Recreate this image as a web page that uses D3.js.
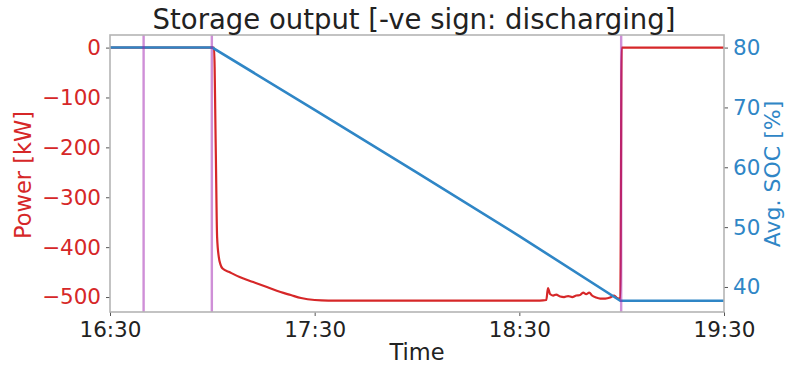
<!DOCTYPE html>
<html>
<head>
<meta charset="utf-8">
<script src="https://cdn.jsdelivr.net/npm/d3@7"></script>
<style>
  body { margin: 0; background: #fff; }
  svg { font-family: "DejaVu Sans", sans-serif; }
</style>
</head>
<body>
<svg id="chart" width="788" height="366"></svg>
<script>
// times as "HH:MM" (minutes may carry decimals)
var powerTimes = ["16:30", "17:00.5", "17:01", "17:01.4", "17:01.9", "17:02.4", "17:03", "17:05", "17:08",
  "17:12", "17:16", "17:20", "17:23", "17:26", "17:30", "17:34", "18:36", "18:37.9", "18:38.4", "18:39",
  "18:39.9", "18:40.8", "18:42", "18:43.1", "18:44.3", "18:45.5", "18:46.7", "18:47.8", "18:48.7",
  "18:49.6", "18:50.5", "18:51.3", "18:52.5", "18:53.7", "18:55.2", "18:56.6", "18:57.8", "18:58.7",
  "18:59.6", "19:00", "19:30"];
var powerValues = [0, 0, -200, -380, -420, -435, -443, -450, -460,
  -470, -480, -490, -496, -502, -506, -507, -507, -506, -482, -494,
  -497, -495, -499, -500, -498, -500, -497, -496, -491,
  -494, -491, -497, -501, -503, -503, -501, -497, -502,
  -504, 0, 0];

var socTimes = ["16:30", "17:00", "17:30", "18:00", "18:30", "18:59.6", "19:30"];
var socValues = [80, 80, 69.6, 59.1, 48.5, 37.7, 37.7];

var markerTimes = ["16:40", "17:00", "19:00"];
var xTickLabels = ["16:30", "17:30", "18:30", "19:30"];
var powerTicks = [0, -100, -200, -300, -400, -500];
var socTicks = [40, 50, 60, 70, 80];

function toDate(s) {
  var p = s.split(":");
  var mm = +p[1];
  return new Date(2020, 0, 1, +p[0], Math.floor(mm), Math.round((mm % 1) * 60));
}

var red = "#d62728", blue = "#2f86c6", vcol = "#a020b0";
var m = { left: 110, right: 724, top: 35, bottom: 312 };

var svg = d3.select("#chart");

var x = d3.scaleTime()
  .domain([toDate("16:30"), toDate("19:30")])
  .range([m.left, m.right]);
var yP = d3.scaleLinear().domain([-530, 25.25]).range([m.bottom, m.top]);
var yS = d3.scaleLinear().domain([35.82, 82.1]).range([m.bottom, m.top]);

var power = powerTimes.map(function (t, i) { return { t: toDate(t), v: powerValues[i] }; });
var soc = socTimes.map(function (t, i) { return { t: toDate(t), v: socValues[i] }; });

svg.append("path")
  .datum(power)
  .attr("fill", "none")
  .attr("stroke", red)
  .attr("stroke-width", 2.2)
  .attr("stroke-linejoin", "round")
  .attr("d", d3.line().curve(d3.curveMonotoneX)
    .x(function (d) { return x(d.t); }).y(function (d) { return yP(d.v); }));

svg.append("path")
  .datum(soc)
  .attr("fill", "none")
  .attr("stroke", blue)
  .attr("stroke-width", 2.6)
  .attr("d", d3.line().x(function (d) { return x(d.t); }).y(function (d) { return yS(d.v); }));

svg.selectAll("line.marker")
  .data(markerTimes)
  .enter().append("line")
  .attr("class", "marker")
  .attr("x1", function (d) { return x(toDate(d)) - 0.5; })
  .attr("x2", function (d) { return x(toDate(d)) - 0.5; })
  .attr("y1", m.top)
  .attr("y2", m.bottom)
  .attr("stroke", vcol)
  .attr("stroke-opacity", 0.5)
  .attr("stroke-width", 2.4);

// axes
var xAxis = d3.axisBottom(x)
  .tickValues(xTickLabels.map(toDate))
  .tickFormat(d3.timeFormat("%H:%M"))
  .tickSize(4).tickPadding(6);
var gx = svg.append("g").attr("transform", "translate(0," + m.bottom + ")").call(xAxis);

var gl = svg.append("g").attr("transform", "translate(" + m.left + ",0)")
  .call(d3.axisLeft(yP).tickValues(powerTicks).tickSize(4).tickPadding(5));

var gr = svg.append("g").attr("transform", "translate(" + m.right + ",0)")
  .call(d3.axisRight(yS).tickValues(socTicks).tickSize(4).tickPadding(5));

[gx, gl, gr].forEach(function (g) {
  g.select(".domain").remove();
  g.selectAll(".tick line").attr("stroke", "#555").attr("stroke-width", 1);
  g.selectAll(".tick text").attr("font-size", 21.5).attr("font-family", "DejaVu Sans");
});
gx.selectAll(".tick text").attr("fill", "#222");
gl.selectAll(".tick text").attr("fill", red);
gr.selectAll(".tick text").attr("fill", blue);
gl.selectAll(".tick text").text(function (d) { return d < 0 ? "\u2212" + Math.abs(d) : d; });

// frame
svg.append("rect")
  .attr("x", m.left).attr("y", m.top)
  .attr("width", m.right - m.left).attr("height", m.bottom - m.top)
  .attr("fill", "none")
  .attr("stroke", "#b5b5b5")
  .attr("stroke-width", 1.6);

svg.append("text")
  .attr("x", 414).attr("y", 29)
  .attr("text-anchor", "middle")
  .attr("font-size", 27.5)
  .attr("fill", "#222")
  .text("Storage output [-ve sign: discharging]");

svg.append("text")
  .attr("x", (m.left + m.right) / 2).attr("y", 360)
  .attr("text-anchor", "middle")
  .attr("font-size", 22.5)
  .attr("fill", "#222")
  .text("Time");

svg.append("text")
  .attr("transform", "translate(31,175) rotate(-90)")
  .attr("text-anchor", "middle")
  .attr("font-size", 22.5)
  .attr("fill", red)
  .text("Power [kW]");

svg.append("text")
  .attr("transform", "translate(780,174) rotate(-90)")
  .attr("text-anchor", "middle")
  .attr("font-size", 22)
  .attr("fill", blue)
  .text("Avg. SOC [%]");
</script>
</body>
</html>
